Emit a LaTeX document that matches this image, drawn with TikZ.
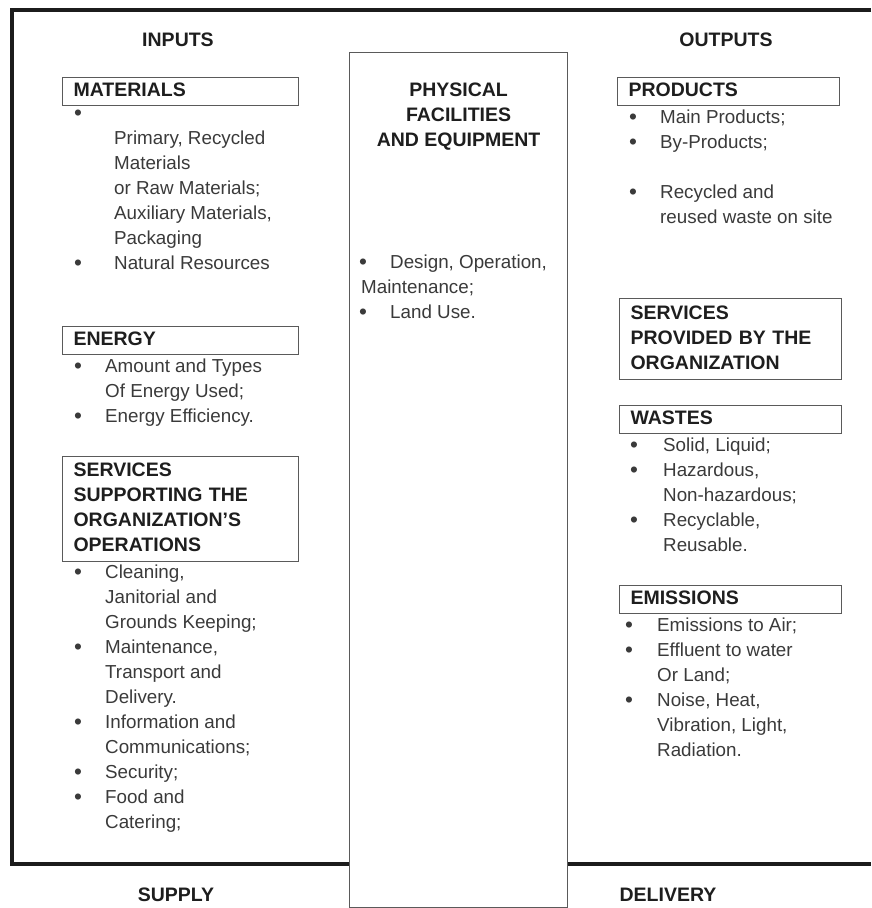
\documentclass[tikz,border=0pt]{standalone}
\usepackage{fontspec}
\setmainfont{Liberation Sans}
\usetikzlibrary{positioning}
\definecolor{frameink}{HTML}{1C1C1C}
\definecolor{boxline}{HTML}{5A5A5A}
\definecolor{bodyink}{HTML}{3A3A3A}
\definecolor{headink}{HTML}{1E1E1E}
\newcommand{\bul}[1][31pt]{\makebox[#1][l]{\raisebox{-1pt}{\scalebox{1.2}{\textbullet}}}}
\newcommand{\ind}[1][31pt]{\hspace*{#1}}

\begin{document}
\begin{tikzpicture}[x=1pt,y=-1pt,
  frame/.style={draw=frameink,line width=4.5pt},
  facility/.style={draw=boxline,line width=1.1pt,fill=white,anchor=north west,minimum width=218pt,minimum height=855pt,inner sep=0pt},
  catbox/.style={draw=boxline,line width=1.1pt,anchor=north west,text width=#1,align=left,inner xsep=11pt,inner ysep=1.5pt,font=\fontsize{19.5}{25}\selectfont\bfseries,text=headink,execute at begin node=\strut,execute at end node=\strut},
  catbox/.default=214pt,
  itemlist/.style={align=left,inner sep=0pt,font=\fontsize{18.8}{25}\selectfont,text=bodyink,execute at begin node=\strut},
  sidehead/.style={inner sep=0pt,font=\fontsize{19.5}{25}\selectfont\bfseries,text=headink}
]
\useasboundingbox (0,0) rectangle (871,908);

% outer frame, open on the right
\draw[frame] (871,10) -- (12,10) -- (12,864) -- (871,864);

% centre column
\node[facility] (phys) at (349,52) {};
\node[sidehead,align=center,execute at begin node=\strut,below=31pt of phys.north,anchor=north] (physhead) {PHYSICAL\\FACILITIES\\AND EQUIPMENT};
\node[itemlist,below=203pt of phys.north west,anchor=north west,xshift=10pt] (physlist) {\bul Design, Operation,\\\hspace*{2pt}Maintenance;\\\bul Land Use.};

% column titles
\node[sidehead] (inputs) at (178,40) {INPUTS};
\node[sidehead] (outputs) at (726,40) {OUTPUTS};
\node[sidehead] (supply) at (176,895) {SUPPLY};
\node[sidehead] (delivery) at (668,895) {DELIVERY};

% inputs
\node[catbox] (mat) at (62,77) {MATERIALS};
\node[itemlist,below=4pt of mat.south west,anchor=north west,xshift=12pt] (matlist) {\bul\\\ind[40pt]Primary, Recycled\\\ind[40pt]Materials\\\ind[40pt]or Raw Materials;\\\ind[40pt]Auxiliary Materials,\\\ind[40pt]Packaging\\\bul[40pt]Natural Resources};

\node[catbox] (energy) at (62,326) {ENERGY};
\node[itemlist,below=4pt of energy.south west,anchor=north west,xshift=12pt] (energylist) {\bul Amount and Types\\\ind Of Energy Used;\\\bul Energy Efficiency.};

\node[catbox,inner ysep=2.5pt] (supp) at (62,456) {SERVICES\\SUPPORTING THE\\ORGANIZATION'S\\OPERATIONS};
\node[itemlist,below=3pt of supp.south west,anchor=north west,xshift=12pt] (supplist) {\bul Cleaning,\\\ind Janitorial and\\\ind Grounds Keeping;\\\bul Maintenance,\\\ind Transport and\\\ind Delivery.\\\bul Information and\\\ind Communications;\\\bul Security;\\\bul Food and\\\ind Catering;};

% outputs
\node[catbox=200pt] (prod) at (617,77) {PRODUCTS};
\node[itemlist,below=4pt of prod.south west,anchor=north west,xshift=12pt] (prodlist) {\bul Main Products;\\\bul By-Products;\\\mbox{}\\\bul Recycled and\\\ind reused waste on site};

\node[catbox=200pt,inner ysep=3pt] (serv) at (619,298) {SERVICES\\PROVIDED BY THE\\ORGANIZATION};

\node[catbox=200pt] (waste) at (619,405) {WASTES};
\node[itemlist,below=4pt of waste.south west,anchor=north west,xshift=11pt] (wastelist) {\bul[33pt]Solid, Liquid;\\\bul[33pt]Hazardous,\\\ind[33pt]Non-hazardous;\\\bul[33pt]Recyclable,\\\ind[33pt]Reusable.};

\node[catbox=200pt] (emis) at (619,585) {EMISSIONS};
\node[itemlist,below=4pt of emis.south west,anchor=north west,xshift=6pt] (emislist) {\bul[32pt]Emissions to Air;\\\bul[32pt]Effluent to water\\\ind[32pt]Or Land;\\\bul[32pt]Noise, Heat,\\\ind[32pt]Vibration, Light,\\\ind[32pt]Radiation.};
\end{tikzpicture}
\end{document}
